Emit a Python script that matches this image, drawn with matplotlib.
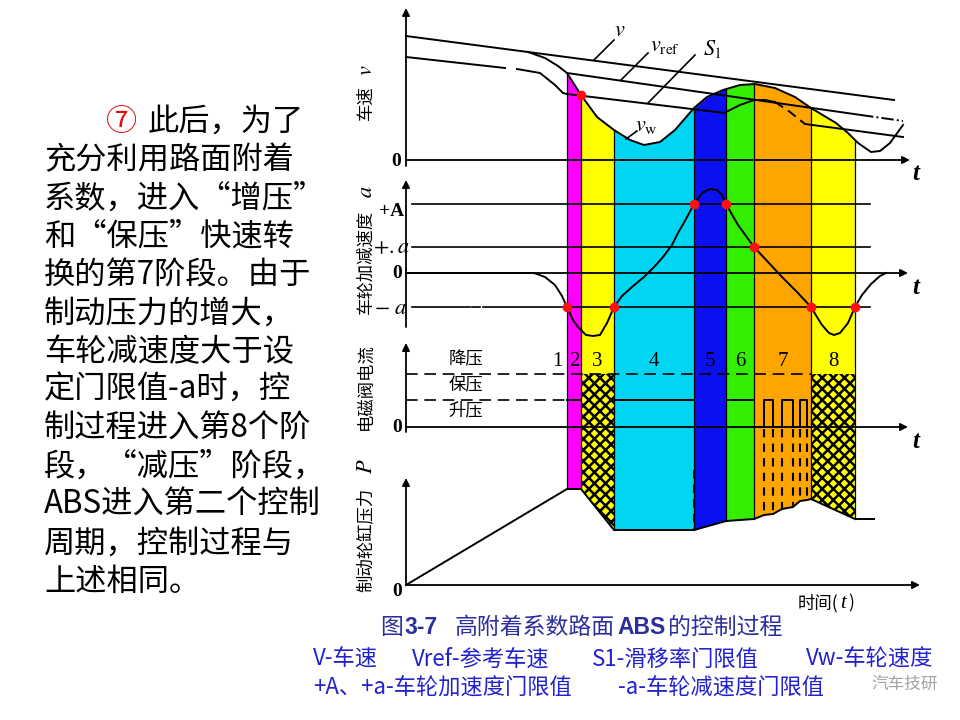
import numpy as np
import matplotlib.pyplot as plt

plt.rcParams['font.family'] = ['Noto Sans CJK SC', 'DejaVu Sans']
plt.rcParams['mathtext.fontset'] = 'stix'
plt.rcParams['hatch.linewidth'] = 1.8

# ---- 数据 (时间 t 以纵轴为 0) ----
# 各阶段分界时刻和颜色
STAGE_T = [161, 175, 208, 288, 320, 348, 405, 449]
STAGE_COLORS = ['#ff00ff', '#ffff00', '#00d6f2', '#0a10f0', '#33ee00', '#ffa500', '#ffff00']
STAGE_NAMES = ['2', '3', '4', '5', '6', '7', '8']
HATCHED = [1, 6]

# 车速 v, 参考车速 vref, 滑移率门限 S1, 车轮速度 vw
V_T = [0, 488]
V_VAL = [124, 60]
VREF_T = [161, 455, 497]
VREF_VAL = [87, 45, 39]
S1_PRE_T = [0, 99]
S1_PRE_VAL = [103, 92]
S1_BEND_T = [111, 134, 149, 157, 161]
S1_BEND_VAL = [91, 87, 75, 67, 66]
S1_T = [161, 319]
S1_VAL = [66, 47]
S1_NEW_T = [320, 334, 348, 359, 369, 384, 399, 497]
S1_NEW_VAL = [48, 55, 60, 60, 58, 48, 36, 23]
VW_T = [122, 139, 152, 161, 175, 191, 208, 224, 238, 254, 269, 288, 301,
        317, 334, 349, 369, 389, 405, 430, 442, 452, 465, 474, 484, 497]
VW_VAL = [108, 102, 94, 87, 65, 43, 30, 20, 15, 18, 30, 52, 63,
          70, 75, 76, 72, 63, 52, 37, 27, 17, 8, 9, 17, 35]

# 车轮加减速度 a
ACC_T = [0, 128, 139, 149, 156, 161, 167, 172, 180, 187, 194, 201, 208, 216, 226,
         238, 249, 257, 266, 272, 280, 288, 296, 304, 311, 316, 320, 332, 348,
         362, 376, 391, 405, 411, 416, 423, 428, 434, 442, 449, 456, 465, 474, 480]
ACC_VAL = [0, 0, -4, -12, -23, -34, -47, -54, -62, -63, -62, -50, -34, -23, -14,
           -4, 7, 16, 28, 40, 54, 69, 80, 84, 83, 78, 69, 48, 26,
           11, -4, -19, -34, -44, -52, -60, -62, -60, -50, -34, -22, -11, -3, 0]
ACC_LEVELS = [69, 26, -34]
ACC_DOT_T = [161, 208, 288, 320, 348, 405, 449]
ACC_DOT_VAL = [-34, -34, 69, 69, 26, -34, -34]
VW_DOT_T = [175]
VW_DOT_VAL = [65]

# 电磁阀电流
CUR_DEC = 53
CUR_HOLD = 27
HOLD_SPANS = [(161, 175), (208, 288), (320, 348)]
PULSE_T = [358, 367, 376, 387, 394, 401]

# 制动轮缸压力 P
P_T = [0, 161, 175, 208, 288, 320, 348, 358, 367, 376, 387, 394, 401, 405, 449, 468]
P_VAL = [0, 96, 96, 55, 55, 64, 66, 70, 71, 76, 78, 84, 85, 86, 66, 66]

# ---- 版面 ----
T0 = 406
ZERO = {'v': 160, 'a': 273, 'i': 427, 'p': 585}


def X(t):
    return T0 + np.asarray(t, dtype=float)


def Y(panel, val):
    return ZERO[panel] - np.asarray(val, dtype=float)


fig = plt.figure(figsize=(9.6, 7.2), dpi=100)
ax = fig.add_axes([0, 0, 1, 1])
ax.set_xlim(0, 960)
ax.set_ylim(720, 0)
ax.axis('off')

LW = 1.4

# 彩色阶段带：上至车轮速度曲线，下至压力曲线
for i, c in enumerate(STAGE_COLORS):
    tt = np.linspace(STAGE_T[i], STAGE_T[i + 1], 80)
    top = Y('v', np.interp(tt, VW_T, VW_VAL))
    bot = Y('p', np.interp(tt, P_T, P_VAL))
    ax.fill_between(X(tt), top, bot, color=c, lw=0, zorder=1)
    if i in HATCHED:
        ax.fill_between(X(tt), Y('i', CUR_DEC), bot, facecolor='none',
                        edgecolor='k', hatch='xxx', lw=0, zorder=2)
for t in STAGE_T:
    top = Y('v', np.interp(t, VW_T, VW_VAL))
    bot = Y('p', np.interp(t, P_T, P_VAL))
    ax.plot([X(t), X(t)], [top, bot], color='k', lw=0.9, zorder=3)
# 第5阶段左边在压力面板中为虚线
t5 = STAGE_T[3]
ax.plot([X(t5), X(t5)], [470, Y('p', np.interp(t5, P_T, P_VAL))],
        color='k', lw=1.5, ls=(0, (4, 3)), zorder=3)

# 坐标轴
def arrow(x0, y0, x1, y1):
    ax.annotate('', xy=(x1, y1), xytext=(x0, y0),
                arrowprops=dict(arrowstyle='-|>', color='k', lw=1.3,
                                mutation_scale=11, shrinkA=0, shrinkB=0),
                zorder=4)

arrow(T0, 166, T0, 8)
arrow(T0, ZERO['v'], 910, ZERO['v'])
arrow(T0, 327, T0, 180)
arrow(T0, ZERO['a'], 908, ZERO['a'])
arrow(T0, 432, T0, 343)
arrow(T0, ZERO['i'], 908, ZERO['i'])
arrow(T0, ZERO['p'], T0, 478)
arrow(T0, ZERO['p'], 920, ZERO['p'])

# 车速面板
ax.plot(X(V_T), Y('v', V_VAL), color='k', lw=LW, zorder=4)
ax.plot(X(VREF_T[:2]), Y('v', VREF_VAL[:2]), color='k', lw=LW, zorder=4)
ax.plot(X(VREF_T[1:]), Y('v', VREF_VAL[1:]), color='k', lw=LW, ls='-.', zorder=4)
ax.plot(X(S1_PRE_T), Y('v', S1_PRE_VAL), color='k', lw=LW, zorder=4)
ax.plot(X(S1_BEND_T), Y('v', S1_BEND_VAL), color='k', lw=LW, zorder=4)
ax.plot(X(S1_T), Y('v', S1_VAL), color='k', lw=LW, zorder=4)
ax.plot(X(S1_NEW_T[:5]), Y('v', S1_NEW_VAL[:5]), color='k', lw=LW, zorder=4)
ax.plot(X(S1_NEW_T[4:7]), Y('v', S1_NEW_VAL[4:7]), color='k', lw=LW, ls=(0, (5, 3)), zorder=4)
ax.plot(X(S1_NEW_T[6:]), Y('v', S1_NEW_VAL[6:]), color='k', lw=LW, zorder=4)
ax.plot(X(VW_T), Y('v', VW_VAL), color='k', lw=LW, zorder=4)
ax.plot(X(VW_DOT_T), Y('v', VW_DOT_VAL), 'o', color='#ff1010', ms=6, zorder=6)

for (x0, y0, x1, y1) in [(594, 60, 614, 40), (621, 80, 648, 53),
                         (648, 103, 695, 55), (626, 139, 637, 131)]:
    ax.plot([x0, x1], [y0, y1], color='k', lw=1.2, zorder=4)
ax.text(620, 30, r'$\mathbf{\mathit{v}}$', fontsize=16, ha='center', va='center')
ax.text(665, 44, r'$v_{\mathrm{ref}}$', fontsize=16, ha='center', va='center')
ax.text(712, 48, r'$S_{\,\mathrm{l}}$', fontsize=16, ha='center', va='center')
ax.text(646, 124, r'$v_{\mathrm{w}}$', fontsize=16, ha='center', va='center')

# 加减速度面板
ax.plot([X(6), X(64)], [Y('a', ACC_LEVELS[2])] * 2, color='k', lw=1.2, zorder=3)
ax.plot([X(66), X(74)], [Y('a', ACC_LEVELS[2])] * 2, color='k', lw=1.2, zorder=3)
ax.plot([X(77), X(464)], [Y('a', ACC_LEVELS[2])] * 2, color='k', lw=1.2, zorder=3)
for lev in ACC_LEVELS[:2]:
    ax.plot([X(6), X(464)], [Y('a', lev)] * 2, color='k', lw=1.2, zorder=3)
ax.plot(X(ACC_T), Y('a', ACC_VAL), color='k', lw=LW, zorder=4)
ax.plot(X(ACC_DOT_T), Y('a', ACC_DOT_VAL), 'o', color='#ff1010', ms=6, zorder=6)

serif = dict(family='Liberation Serif', weight='bold', fontsize=14, ha='center', va='center')
ax.text(392, 211, '+A', **serif)
ax.text(391, 247, r'$+.a$', fontsize=16, ha='center', va='center')
ax.text(397, 274, '0', **serif)
ax.text(391, 307, r'$-\ a$', fontsize=16, ha='center', va='center')
ax.text(396, 161, '0', **serif)
ax.text(397, 428, '0', **serif)
ax.text(397, 591, '0', **serif)
for yy in (174, 287, 441):
    ax.text(916, yy, 't', family='Liberation Serif', style='italic',
            weight='bold', fontsize=18, ha='center', va='center')

# 电磁阀电流面板
dash = (0, (7, 4))
ax.plot([X(0), X(STAGE_T[6])], [Y('i', CUR_DEC)] * 2, color='k', lw=1.2, ls=dash, zorder=3)
ax.plot([X(0), X(STAGE_T[0])], [Y('i', CUR_HOLD)] * 2, color='k', lw=1.2, ls=dash, zorder=3)
for (a0, a1) in HOLD_SPANS:
    ax.plot([X(a0), X(a1)], [Y('i', CUR_HOLD)] * 2, color='k', lw=LW, zorder=4)
pt = [STAGE_T[5]] + PULSE_T + [STAGE_T[6]]
pv = [0, CUR_HOLD, 0, CUR_HOLD, 0, CUR_HOLD, 0, 0]
ax.step(X(pt), Y('i', pv), where='post', color='k', lw=LW, zorder=4)
for t in PULSE_T:
    ax.plot([X(t), X(t)], [Y('i', -2), Y('p', np.interp(t, P_T, P_VAL))],
            color='k', lw=1.5, ls=(0, (4, 3)), zorder=4)

for txt, yy in [('降压', 359), ('保压', 385), ('升压', 410)]:
    ax.text(466, yy, txt, fontsize=12.5, ha='center', va='center')
ax.text(557, 362, '1', family='Liberation Serif', fontsize=15, ha='center', va='center')
for i, name in enumerate(STAGE_NAMES):
    xc = X((STAGE_T[i] + STAGE_T[i + 1]) / 2)
    ax.text(xc, 362, name, family='Liberation Serif', fontsize=15, ha='center', va='center')

# 压力面板
ax.plot(X(P_T), Y('p', P_VAL), color='k', lw=LW, zorder=4)
ax.text(838, 603, '时间(', fontsize=12.5, ha='right', va='center')
ax.text(843, 603, 't', family='Liberation Serif', style='italic', fontsize=15,
        ha='center', va='center')
ax.text(848, 603, ')', fontsize=12.5, ha='left', va='center')

# 纵轴标题
ylab = dict(fontsize=12.5, rotation=90, ha='center', va='center')
ax.text(366, 103, '车速', **ylab)
ax.text(366, 70, r'$v$', fontsize=16, rotation=90, ha='center', va='center')
ax.text(366, 262, '车轮加减速度', **ylab)
ax.text(366, 192, r'$a$', fontsize=16, rotation=90, ha='center', va='center')
ax.text(366, 387, '电磁阀电流', **ylab)
ax.text(366, 540, '制动轮缸压力', **ylab)
ax.text(366, 466, r'$P$', fontsize=16, rotation=90, ha='center', va='center')

# 图题与说明
cap = '#2b2f9e'
ax.text(380, 627, '图', fontsize=16.5, color=cap, ha='left', va='center')
ax.text(404, 627, '3-7', family='Liberation Sans', weight='bold', fontsize=16.5,
        color=cap, ha='left', va='center')
ax.text(455, 627, '高附着系数路面', fontsize=16.5, color=cap, ha='left', va='center')
ax.text(617, 627, 'ABS', family='Liberation Sans', weight='bold', fontsize=16.5,
        color=cap, ha='left', va='center')
ax.text(668, 627, '的控制过程', fontsize=16.5, color=cap, ha='left', va='center')

blue = '#2222cc'
for txt, xx in [('V-车速', 313), ('Vref-参考车速', 412), ('S1-滑移率门限值', 592),
                ('Vw-车轮速度', 806)]:
    ax.text(xx, 659, txt, fontsize=16, color=blue, ha='left', va='center')
for txt, xx in [('+A、+a-车轮加速度门限值', 313), ('-a-车轮减速度门限值', 618)]:
    ax.text(xx, 688, txt, fontsize=16, color=blue, ha='left', va='center')
ax.text(938, 684, '汽车技研', fontsize=12, color='#9a9a9a', ha='right', va='center', alpha=0.9)

# 左侧说明文字
LEFT_LINES = ['此后，为了', '充分利用路面附着', '系数，进入“增压”', '和“保压”快速转',
              '换的第7阶段。由于', '制动压力的增大，', '车轮减速度大于设',
              '定门限值-a时，控', '制过程进入第8个阶', '段，“减压”阶段，',
              'ABS进入第二个控制', '周期，控制过程与', '上述相同。']
for k, line in enumerate(LEFT_LINES):
    xx = 148 if k == 0 else 44
    ax.text(xx, 122 + 38.3 * k, line, fontsize=22.5, ha='left', va='center')
ax.text(122, 122, '⑦', fontsize=22.5, color='#e01010', ha='center', va='center')

fig.savefig('out.png', dpi=100)
